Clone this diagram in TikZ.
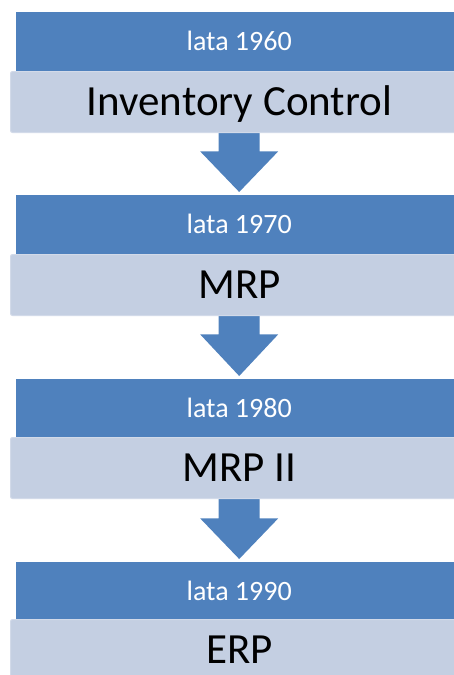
\documentclass[tikz,border=0pt]{standalone}
\usepackage{fontspec}
\setmainfont[Numbers=Lining]{Carlito}
\usetikzlibrary{calc}
\definecolor{barblue}{RGB}{79,129,189}
\definecolor{barlight}{RGB}{196,207,226}
\definecolor{baredge}{RGB}{210,218,233}
\begin{document}
\begin{tikzpicture}[x=1pt,y=-1pt,
  yearbar/.style={anchor=north west, fill=barblue, draw=none,
    minimum width=446pt, minimum height=59pt, inner sep=0pt,
    text=white, text height=17pt, text depth=0pt,
    font=\fontsize{28}{32}\selectfont},
  namebar/.style={anchor=north west, fill=barlight, draw=baredge,
    line width=1pt, rounded corners=2pt,
    minimum width=458pt, minimum height=61pt, inner sep=0pt,
    text=black, text height=27.5pt, text depth=0pt,
    font=\fontsize{43}{50}\selectfont},
  flowarrow/.style={fill=barblue, draw=none}]
\useasboundingbox (0,0) rectangle (454,675);
\clip (0,0) rectangle (454,675);

% decade headers
\node[yearbar] (y1) at (16,12)  {lata 1960};
\node[yearbar] (y2) at (16,195) {lata 1970};
\node[yearbar] (y3) at (16,379) {lata 1980};
\node[yearbar] (y4) at (16,562) {lata 1990};

% block arrows from each system bar down to the next decade
\foreach \a/\b in {y1/y2, y2/y3, y3/y4}{
  \fill[flowarrow]
    ($(\a.south)+(-20.5,50)$) -- ($(\a.south)+(-20.5,80)$)
    -- ($(\a.south)+(-39,80)$) -- ($(\b.north)+(0,-3)$)
    -- ($(\a.south)+(39,80)$) -- ($(\a.south)+(20.5,80)$)
    -- ($(\a.south)+(20.5,50)$) -- cycle;
}

% system names
\node[namebar] (n1) at (10,71)  {Inventory Control};
\node[namebar] (n2) at (10,254) {MRP};
\node[namebar] (n3) at (10,437) {MRP II};
\node[namebar] (n4) at (10,619) {ERP};
\end{tikzpicture}
\end{document}
